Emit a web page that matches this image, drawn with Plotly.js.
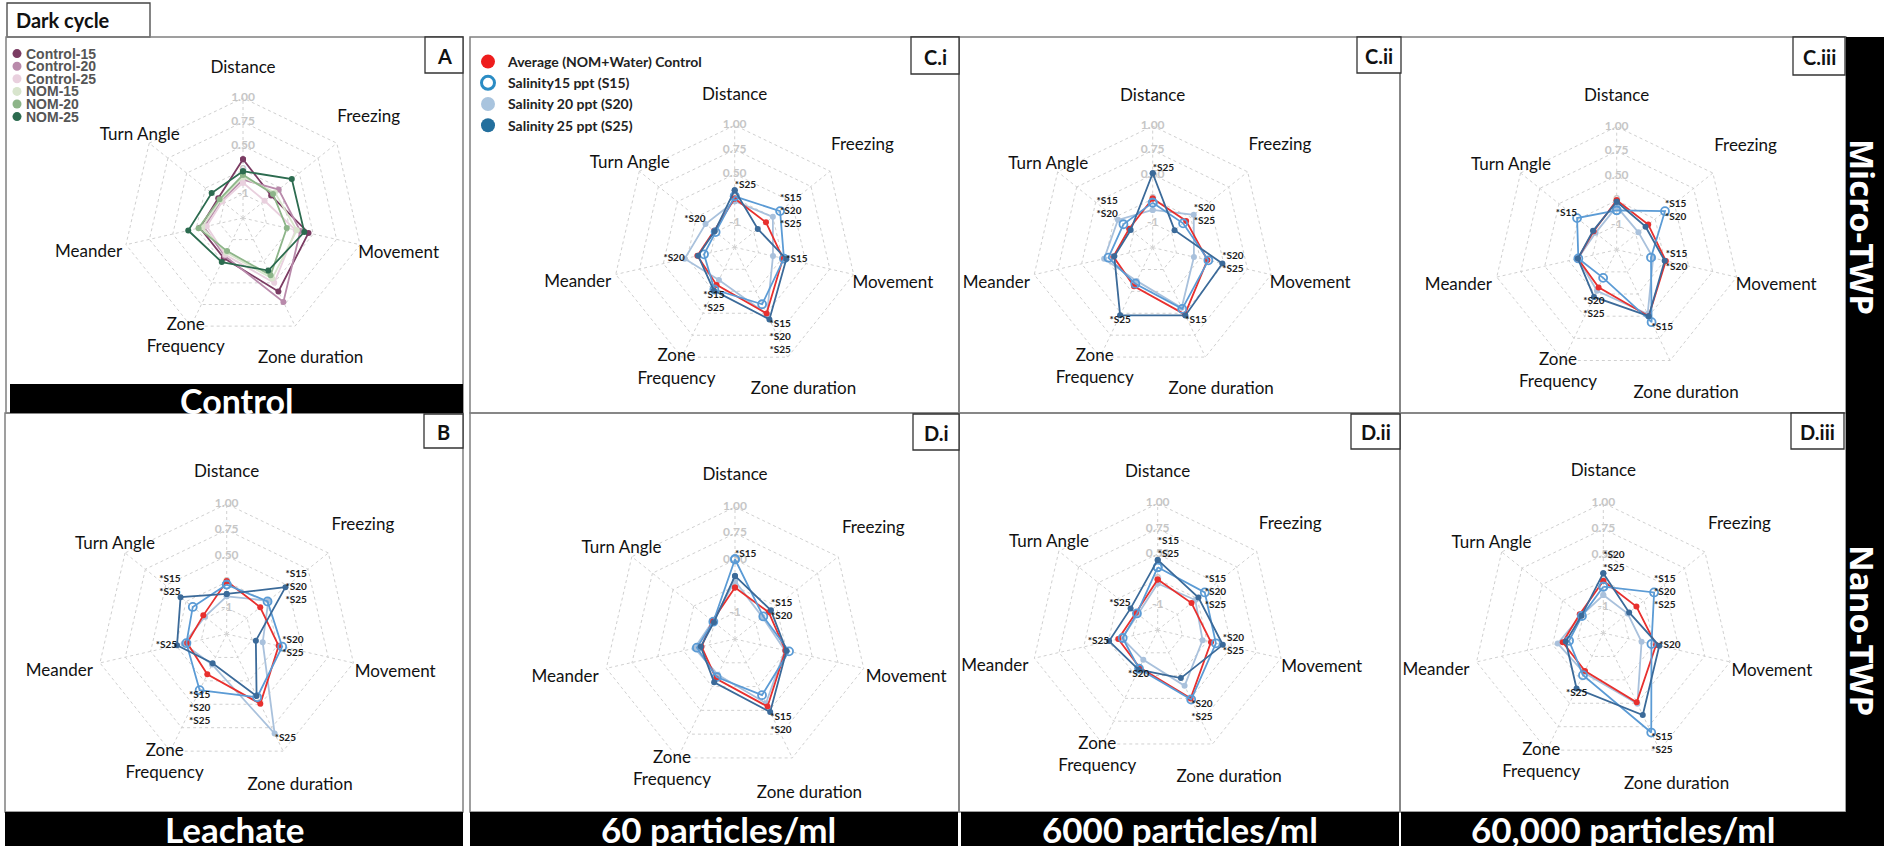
<!DOCTYPE html>
<html><head><meta charset="utf-8">
<script src="https://cdn.plot.ly/plotly-3.0.1.min.js"></script>
<style>html,body{margin:0;padding:0;background:#fff;} #chart{width:1884px;height:849px;}</style>
</head><body><div id="chart"></div>
<script>
// ---------- DATA ----------
const categories = ['Distance','Freezing','Movement','Zone duration','Zone Frequency','Meander','Turn Angle'];
const axisLabels = ['Distance','Freezing','Movement','Zone duration','Zone<br>Frequency','Meander','Turn Angle'];
const radialTickVals = [1, 2, 3, 4, 5];
const radialTickText = ['-1', '0', '0.50', '0.75', '1.00'];

// Panel A (Control, 6 groups)
const groupNamesA = ['Control-15','Control-20','Control-25','NOM-15','NOM-20','NOM-25'];
const A_control15 = [2.45, 1.50, 2.80, 3.40, 1.85, 1.84, 1.32];
const A_control20 = [1.60, 1.90, 2.45, 3.88, 1.75, 1.67, 1.15];
const A_control25 = [1.47, 1.15, 2.25, 3.00, 1.70, 1.55, 1.10];
const A_nom15     = [1.70, 1.70, 2.30, 2.80, 1.60, 1.75, 1.20];
const A_nom20     = [1.80, 1.60, 1.87, 2.65, 1.53, 1.90, 1.25];
const A_nom25     = [1.95, 2.60, 2.62, 2.43, 2.04, 2.34, 1.67];

// Salinity series names
const salinityNames = ['Average (NOM+Water) Control','Salinity15 ppt (S15)','Salinity 20 ppt (S20)','Salinity 25 ppt (S25)'];

// Panel B (Leachate)
const B_control = [2.03, 1.65, 2.05, 2.98, 1.72, 1.56, 1.15];
const B_s15     = [1.90, 2.01, 2.19, 2.70, 2.40, 1.59, 1.67];
const B_s20     = [1.45, 2.05, 1.42, 4.25, 1.30, 1.70, 1.07];
const B_s25     = [1.54, 2.89, 1.15, 2.65, 1.25, 1.96, 2.27];
const B_sig     = ['', '*S15<br>*S20<br>*S25', '*S20<br>*S25', '*S25', '*S15<br>*S20<br>*S25', '*S25', '*S15<br>*S25'];

// Panel C.i (Micro-TWP, 60 particles/ml)
const Ci_control = [2.00, 1.64, 2.03, 3.01, 1.71, 1.57, 1.08];
const Ci_s15     = [2.09, 2.38, 2.07, 2.59, 1.92, 1.29, 1.00];
const Ci_s20     = [1.89, 2.00, 1.61, 3.05, 1.49, 2.10, 1.53];
const Ci_s25     = [2.34, 1.21, 2.17, 3.28, 1.97, 1.54, 1.05];
const Ci_sig     = ['*S25', '*S15<br>*S20<br>*S25', '*S15', '*S15<br>*S20<br>*S25', '*S15<br>*S25', '*S20', '*S20'];

// Panel C.ii (Micro-TWP, 6000 particles/ml)
const Cii_control = [2.02, 1.76, 2.31, 3.05, 1.77, 1.66, 1.24];
const Cii_s15     = [1.85, 1.60, 2.35, 2.80, 1.65, 1.87, 1.54];
const Cii_s20     = [1.55, 2.16, 1.74, 2.75, 1.52, 2.05, 1.83];
const Cii_s25     = [3.06, 1.15, 2.94, 3.10, 3.09, 1.62, 1.16];
const Cii_sig     = ['*S25', '*S20<br>*S25', '*S20<br>*S25', '*S15', '*S25', '', '*S15<br>*S20'];

// Panel C.iii (Micro-TWP, 60,000 particles/ml)
const Ciii_control = [2.01, 1.64, 2.05, 3.00, 1.70, 1.62, 1.20];
const Ciii_s15     = [1.60, 2.51, 1.43, 3.27, 1.27, 1.60, 2.06];
const Ciii_s20     = [1.75, 1.13, 1.52, 2.90, 1.85, 1.62, 1.10];
const Ciii_s25     = [1.95, 1.50, 2.00, 3.00, 2.13, 1.62, 1.23];
const Ciii_sig     = ['', '*S15<br>*S20', '*S15<br>*S20', '*S15', '*S20<br>*S25', '', '*S15'];

// Panel D.i (Nano-TWP, 60 particles/ml)
const Di_control = [1.95, 1.63, 1.96, 2.84, 1.66, 1.30, 1.10];
const Di_s15     = [3.02, 1.37, 2.10, 2.36, 1.60, 1.48, 1.05];
const Di_s20     = [2.20, 1.33, 1.94, 2.70, 1.50, 1.57, 1.08];
const Di_s25     = [2.39, 1.74, 2.00, 3.07, 1.82, 1.33, 1.02];
const Di_sig     = ['*S15', '*S15<br>*S20', '', '*S15<br>*S20', '', '', ''];

// Panel D.ii (Nano-TWP, 6000 particles/ml)
const Dii_control = [2.00, 1.71, 2.16, 3.00, 1.65, 1.60, 1.10];
const Dii_s15     = [2.48, 2.38, 2.36, 3.05, 1.70, 1.42, 1.05];
const Dii_s20     = [1.84, 1.90, 1.82, 2.45, 1.31, 1.45, 1.00];
const Dii_s25     = [2.77, 2.06, 2.64, 2.11, 1.74, 1.97, 1.37];
const Dii_sig     = ['*S15<br>*S25', '*S15<br>*S20<br>*S25', '*S20<br>*S25', '*S20<br>*S25', '*S20', '*S25', '*S25'];

// Panel D.iii (Nano-TWP, 60,000 particles/ml)
const Diii_control = [2.00, 1.63, 2.08, 2.96, 1.62, 1.60, 1.16];
const Diii_s15     = [1.78, 2.50, 1.90, 4.25, 1.80, 1.35, 1.05];
const Diii_s20     = [1.46, 1.20, 1.51, 3.02, 1.70, 1.80, 1.08];
const Diii_s25     = [2.30, 1.27, 2.21, 3.50, 2.37, 1.48, 1.07];
const Diii_sig     = ['*S20<br>*S25', '*S15<br>*S20<br>*S25', '*S20', '*S15<br>*S25', '*S25', '', ''];

// ---------- LAYOUT / STYLE ----------
const W = 1884, H = 849;
const px = x => x / W;
const py = y => 1 - y / H;
const RMAX = 6.8;                 // radial range drawn (grid rings stop at 5)
const GRID_MAX = 5;
const labelRadius = [6.2, 6.7, 6.65, 6.5, 5.5, 6.6, 5.5];   // label placement (layout)
const FONT = 'Lato, "Open Sans", sans-serif';
const colorsA = ['#7b3c63', '#b98aab', '#e9d0de', '#d8e5cd', '#8db589', '#2c6b4f'];
const salColors = ['#e8302e', '#5b9bd5', '#a9c1dc', '#3b6a99'];
const gridColor = '#d0d0d0';
const sigPositions = ['top right', 'middle right', 'middle right', 'bottom right', 'bottom center', 'middle left', 'top left'];

const panels = [
  {id: 'polar',  cx: 243,   cy: 218,   R: 120},
  {id: 'polar2', cx: 226.7, cy: 634,   R: 130},
  {id: 'polar3', cx: 734.7, cy: 247.3, R: 122},
  {id: 'polar4', cx: 1152.7,cy: 247.6, R: 121.5},
  {id: 'polar5', cx: 1616.7,cy: 249.7, R: 123},
  {id: 'polar6', cx: 735,   cy: 639,   R: 132},
  {id: 'polar7', cx: 1157.7,cy: 630,   R: 126.5},
  {id: 'polar8', cx: 1603.3,cy: 633,   R: 130}
];

const closeLoop = a => a.concat([a[0]]);
const thetaClosed = closeLoop(categories);
const traces = [];

function baseTraces(sub) {
  // spokes (angular grid) from centre to the outer ring
  traces.push({
    type: 'scatterpolar', subplot: sub, mode: 'lines',
    r: categories.flatMap(() => [0, GRID_MAX, null]),
    theta: categories.flatMap(c => [c, c, c]),
    line: {color: gridColor, width: 1, dash: 'dot'},
    connectgaps: false, hoverinfo: 'skip', showlegend: false
  });
  traces.push({
    type: 'scatterpolar', subplot: sub, mode: 'text',
    r: radialTickVals, theta: radialTickVals.map(() => categories[0]),
    text: radialTickText, textposition: 'middle center',
    textfont: {family: FONT, size: 12, color: '#c6c6c6', weight: 'bold'},
    hoverinfo: 'skip', showlegend: false, cliponaxis: false
  });
  traces.push({
    type: 'scatterpolar', subplot: sub, mode: 'text',
    r: labelRadius, theta: categories,
    text: axisLabels, textposition: 'middle center',
    textfont: {family: FONT, size: 17, color: '#111'},
    hoverinfo: 'skip', showlegend: false, cliponaxis: false
  });
}

// Panel A
baseTraces('polar');
[A_control15, A_control20, A_control25, A_nom15, A_nom20, A_nom25].forEach((vals, i) => {
  traces.push({
    type: 'scatterpolar', subplot: 'polar', mode: 'lines+markers',
    r: closeLoop(vals), theta: thetaClosed, name: groupNamesA[i],
    line: {color: colorsA[i], width: 1.8},
    marker: {color: colorsA[i], size: 6},
    showlegend: false, cliponaxis: false
  });
});

function salinityPanel(sub, series, sig) {
  baseTraces(sub);
  const order = [2, 0, 1, 3];
  order.forEach(i => {
    const open = i === 1;
    traces.push({
      type: 'scatterpolar', subplot: sub, mode: 'lines+markers',
      r: closeLoop(series[i]), theta: thetaClosed, name: salinityNames[i],
      line: {color: salColors[i], width: 1.8},
      marker: open ? {symbol: 'circle-open', color: salColors[i], size: 8, line: {width: 1.8}}
                   : {color: salColors[i], size: 6},
      showlegend: false, cliponaxis: false
    });
  });
  const idx = sig.map((s, i) => s ? i : -1).filter(i => i >= 0);
  traces.push({
    type: 'scatterpolar', subplot: sub, mode: 'text',
    r: idx.map(i => Math.max(series[0][i], series[1][i], series[2][i], series[3][i])),
    theta: idx.map(i => categories[i]),
    text: idx.map(i => sig[i].split('<br>').map(s => '<b>' + s + '</b>').join('<br>')),
    textposition: idx.map(i => sigPositions[i]),
    textfont: {family: FONT, size: 10, color: '#1a1a1a'},
    hoverinfo: 'skip', showlegend: false, cliponaxis: false
  });
}

salinityPanel('polar2', [B_control, B_s15, B_s20, B_s25], B_sig);
salinityPanel('polar3', [Ci_control, Ci_s15, Ci_s20, Ci_s25], Ci_sig);
salinityPanel('polar4', [Cii_control, Cii_s15, Cii_s20, Cii_s25], Cii_sig);
salinityPanel('polar5', [Ciii_control, Ciii_s15, Ciii_s20, Ciii_s25], Ciii_sig);
salinityPanel('polar6', [Di_control, Di_s15, Di_s20, Di_s25], Di_sig);
salinityPanel('polar7', [Dii_control, Dii_s15, Dii_s20, Dii_s25], Dii_sig);
salinityPanel('polar8', [Diii_control, Diii_s15, Diii_s20, Diii_s25], Diii_sig);

// Legend entries (marker-only, no drawn point) for the salinity series, in panel C.i
const legendColors = ['#ee1d1d', '#2b8cc4', '#a9c4de', '#236f9d'];
salinityNames.forEach((n, i) => {
  traces.push({
    type: 'scatterpolar', subplot: 'polar3', mode: 'markers', r: [null], theta: [categories[0]],
    name: n, showlegend: true, hoverinfo: 'skip',
    marker: i === 1 ? {symbol: 'circle-open', color: legendColors[i], size: 13, line: {width: 3}}
                    : {color: legendColors[i], size: 14}
  });
});

const layout = {
  width: W, height: H, autosize: false,
  margin: {l: 0, r: 0, t: 0, b: 0},
  paper_bgcolor: '#ffffff',
  font: {family: FONT},
  showlegend: true,
  legend: {x: px(468), y: py(46), xanchor: 'left', yanchor: 'top', bgcolor: 'rgba(0,0,0,0)',
           font: {family: FONT, size: 14, color: '#222', weight: 'bold'}, tracegroupgap: 0, itemclick: false},
  shapes: [], annotations: []
};

panels.forEach(p => {
  const half = p.R * RMAX / GRID_MAX;
  layout[p.id] = {
    domain: {x: [px(p.cx - half), px(p.cx + half)], y: [py(p.cy + half), py(p.cy - half)]},
    bgcolor: 'rgba(0,0,0,0)',
    gridshape: 'linear',
    radialaxis: {range: [0, RMAX], tickvals: radialTickVals, showticklabels: false, ticks: '',
                 showline: false, gridcolor: gridColor, griddash: 'dot', gridwidth: 1, angle: 90},
    angularaxis: {type: 'category', categoryorder: 'array', categoryarray: categories,
                  rotation: 90, direction: 'clockwise', showticklabels: false, ticks: '',
                  showline: false, showgrid: false}
  };
});

function rect(x0, y0, x1, y1, opts) {
  layout.shapes.push(Object.assign({type: 'rect', xref: 'paper', yref: 'paper',
    x0: px(x0), x1: px(x1), y0: py(y1), y1: py(y0)}, opts));
}
function text(x, y, t, font, extra) {
  layout.annotations.push(Object.assign({xref: 'paper', yref: 'paper', x: px(x), y: py(y),
    text: t, showarrow: false, font: font, xanchor: 'center', yanchor: 'middle'}, extra || {}));
}

// Dark cycle box
rect(7, 3, 150, 37, {line: {color: '#444', width: 1.3}, fillcolor: 'rgba(0,0,0,0)'});
text(14, 20, '<b>Dark cycle</b>', {family: FONT, size: 20, color: '#111'}, {xanchor: 'left'});

// Panel borders
const borderStyle = {line: {color: '#808080', width: 1.5}, fillcolor: 'rgba(0,0,0,0)'};
[[6,37,463,413],[5,413,463,812],[470,37,959,413],[470,413,959,812],
 [959,37,1400,413],[959,413,1400,812],[1400,37,1846,413],[1400,413,1846,812]]
 .forEach(b => rect(b[0], b[1], b[2], b[3], borderStyle));

// Panel letter boxes
const boxStyle = {line: {color: '#333', width: 1.3}, fillcolor: '#ffffff'};
[[425,37,463,73,'A'],[424,414,463,448,'B'],[911,37,959,74,'C.i'],[913,414,959,450,'D.i'],
 [1357,37,1401,73,'C.ii'],[1351,414,1400,449,'D.ii'],[1793,37,1845,75,'C.iii'],[1791,413,1844,449,'D.iii']]
 .forEach(b => {
   rect(b[0], b[1], b[2], b[3], boxStyle);
   text((b[0] + b[2]) / 2, (b[1] + b[3]) / 2 + 1, '<b>' + b[4] + '</b>', {family: FONT, size: 20, color: '#111'});
 });

// Black bars
const barStyle = {line: {width: 0}, fillcolor: '#000000'};
rect(10, 384, 463, 413, barStyle);
rect(5, 812, 463, 846, barStyle);
rect(470, 812, 958, 846, barStyle);
rect(961, 812, 1399, 846, barStyle);
rect(1401, 812, 1846, 846, barStyle);
rect(1846, 37, 1884, 846, barStyle);
const barFont = {family: FONT, size: 35, color: '#ffffff'};
text(236, 400, '<b>Control</b>', {family: FONT, size: 34, color: '#ffffff'});
text(234, 829, '<b>Leachate</b>', barFont);
text(718, 829, '<b>60 particles/ml</b>', barFont);
text(1180, 829, '<b>6000 particles/ml</b>', barFont);
text(1623, 829, '<b>60,000 particles/ml</b>', barFont);
const sideFont = {family: '"Open Sans", Lato, sans-serif', size: 33, color: '#ffffff'};
text(1863, 227, '<b>Micro-TWP</b>', sideFont, {textangle: 90});
text(1863, 630, '<b>Nano-TWP</b>', sideFont, {textangle: 90});

// Panel A legend (group names)
groupNamesA.forEach((n, i) => {
  const yy = 53.6 + 12.6 * i;
  layout.shapes.push({type: 'circle', xref: 'paper', yref: 'paper',
    x0: px(12.5), x1: px(21.5), y0: py(yy + 4.5), y1: py(yy - 4.5),
    fillcolor: colorsA[i], line: {width: 0}});
  text(24, yy, n, {family: '"Liberation Sans", Arial, sans-serif', size: 14, color: '#555', weight: 'bold'}, {xanchor: 'left'});
});

Plotly.newPlot('chart', traces, layout, {staticPlot: true, displayModeBar: false});
</script>
</body></html>
